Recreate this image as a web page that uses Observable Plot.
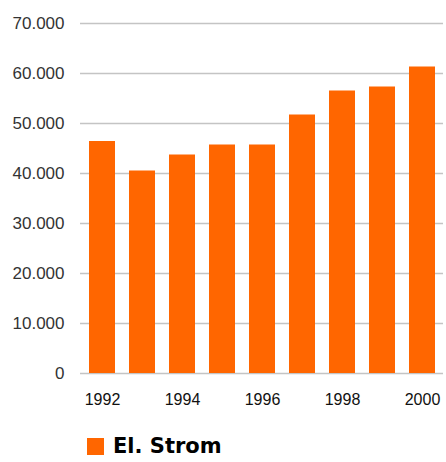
<!DOCTYPE html>
<html>
<head>
<meta charset="utf-8">
<script src="https://cdn.jsdelivr.net/npm/d3@7"></script>
<script src="https://cdn.jsdelivr.net/npm/@observablehq/plot@0.6"></script>
<style>
  html, body { margin: 0; padding: 0; background: #fff; }
  #chart { position: relative; width: 446px; height: 462px; }
  #legend { position: absolute; left: 87px; top: 430px; height: 32px; display: flex; align-items: center;
            font-family: "DejaVu Sans", Verdana, sans-serif; font-weight: bold; font-size: 21px; color: #000; }
  #legend .sw { width: 17px; height: 17px; background: #FF6600; margin-right: 9px; }
</style>
</head>
<body>
<div id="chart"></div>
<script>
const years = [1992, 1993, 1994, 1995, 1996, 1997, 1998, 1999, 2000];
const values = [46400, 40500, 43700, 45700, 45700, 51700, 56500, 57300, 61300];
const yTicks = [0, 10000, 20000, 30000, 40000, 50000, 60000, 70000];
const xTicks = [1992, 1994, 1996, 1998, 2000];
const seriesName = "El. Strom";

const data = years.map((y, i) => ({year: y, value: values[i]}));
const de = d3.formatLocale({decimal: ",", thousands: ".", grouping: [3], currency: ["", " €"]});
const fmt = de.format(",");

const plot = Plot.plot({
  width: 446,
  height: 420,
  marginLeft: 80,
  marginRight: 3,
  marginTop: 23,
  marginBottom: 47,
  style: {fontFamily: "'Liberation Sans', Arial, sans-serif", background: "#fff"},
  x: {type: "band", domain: years, paddingInner: 0.35, paddingOuter: 0.175, label: null},
  y: {domain: [0, 70000], label: null},
  marks: [
    Plot.ruleY(yTicks, {stroke: "#c4c4c4", strokeWidth: 1.3}),
    Plot.barY(data, {x: "year", y: "value", fill: "#FF6600"}),
    Plot.axisY({ticks: yTicks, tickSize: 0, tickPadding: 16, tickFormat: fmt, fontSize: 17, fill: "#333", label: null}),
    Plot.axisX({ticks: xTicks, tickSize: 0, tickPadding: 20, tickFormat: d => String(d), fontSize: 16, fill: "#111", label: null})
  ]
});
document.getElementById("chart").appendChild(plot);
const leg = document.createElement("div");
leg.id = "legend";
leg.innerHTML = `<div class="sw"></div><span></span>`;
leg.querySelector("span").textContent = seriesName;
document.getElementById("chart").appendChild(leg);
</script>
</body>
</html>
